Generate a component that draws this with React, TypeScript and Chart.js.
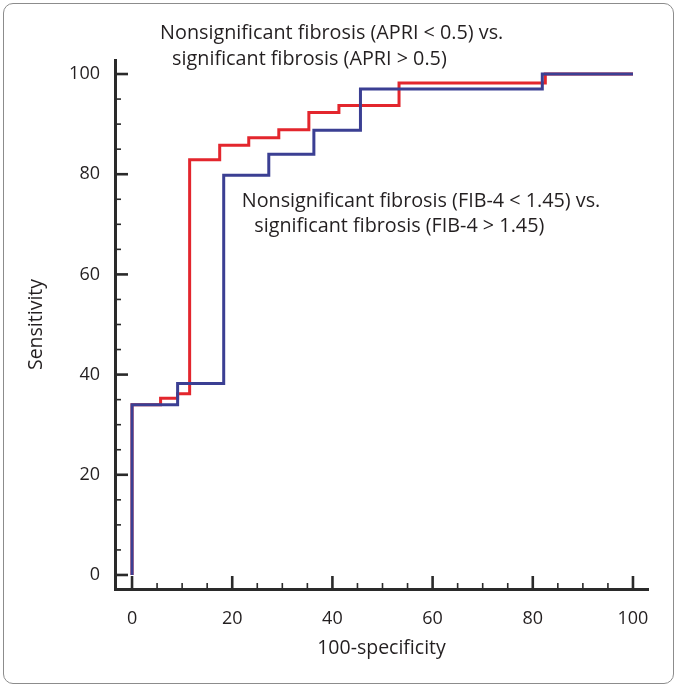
import React, { useEffect, useRef } from "react";
import { Chart, registerables } from "chart.js";

Chart.register(...registerables);

// ROC step corners (100-specificity, sensitivity)
const fibFpr = [0, 0, 9.1, 18.3, 27.3, 36.3, 45.6, 81.9, 100];
const fibSens = [0, 34, 38.2, 79.8, 84, 88.8, 97, 100, 100];
const apriFpr = [0, 0, 5.7, 9.1, 11.5, 17.5, 23.3, 29.3, 35.3, 41.3, 53.3, 82.5, 100];
const apriSens = [0, 34, 35.3, 36.2, 82.9, 85.8, 87.3, 88.9, 92.3, 93.7, 98.2, 100, 100];

const majorTicks = [0, 20, 40, 60, 80, 100];
const minorTicks = [5, 10, 15, 25, 30, 35, 45, 50, 55, 65, 70, 75, 85, 90, 95];

const xTitle = "100-specificity";
const yTitle = "Sensitivity";

const apriLabel = ["Nonsignificant fibrosis (APRI < 0.5) vs.", "significant fibrosis (APRI > 0.5)"];
const fibLabel = ["Nonsignificant fibrosis (FIB-4 < 1.45) vs.", "significant fibrosis (FIB-4 > 1.45)"];

// label anchors in data coordinates (x, y) per line
const apriAnchors = [
  [5.6, 107.0],
  [8.0, 101.9],
];
const fibAnchors = [
  [21.9, 73.5],
  [24.4, 68.5],
];

const FONT = "'Open Sans', sans-serif";
const TEXT = "#231f20";
const AXIS = "#2a2a2a";
const RED = "#e3262d";
const BLUE = "#3b3f93";

const toPoints = (xs: number[], ys: number[]) => xs.map((x, i) => ({ x, y: ys[i] }));

const innerTicks = {
  id: "innerTicks",
  afterDraw(chart: any) {
    const { ctx, chartArea, scales } = chart;
    const xs = scales.x;
    const ys = scales.y;
    ctx.save();
    ctx.strokeStyle = AXIS;
    const draw = (vals: number[], len: number, w: number) => {
      ctx.lineWidth = w;
      vals.forEach((v) => {
        const px = xs.getPixelForValue(v);
        ctx.beginPath();
        ctx.moveTo(px, chartArea.bottom);
        ctx.lineTo(px, chartArea.bottom - len);
        ctx.stroke();
        const py = ys.getPixelForValue(v);
        ctx.beginPath();
        ctx.moveTo(chartArea.left, py);
        ctx.lineTo(chartArea.left + len, py);
        ctx.stroke();
      });
    };
    draw(majorTicks, 13, 2.6);
    draw(minorTicks, 6, 1.6);

    ctx.fillStyle = TEXT;
    ctx.font = `19.8px ${FONT}`;
    ctx.textAlign = "left";
    ctx.textBaseline = "alphabetic";
    const put = (lines: string[], anchors: number[][]) => {
      lines.forEach((t, i) => {
        ctx.fillText(t, xs.getPixelForValue(anchors[i][0]), ys.getPixelForValue(anchors[i][1]));
      });
    };
    put(apriLabel, apriAnchors);
    put(fibLabel, fibAnchors);
    ctx.restore();
  },
};

export default function App() {
  const ref = useRef<HTMLCanvasElement | null>(null);

  useEffect(() => {
    document.body.style.margin = "0";
    const canvas = ref.current;
    if (!canvas) return;
    const chart = new Chart(canvas, {
      type: "line",
      data: {
        datasets: [
          {
            label: "FIB-4",
            data: toPoints(fibFpr, fibSens),
            borderColor: BLUE,
            borderWidth: 3,
            pointRadius: 0,
            stepped: "before",
            fill: false,
            order: 0,
          },
          {
            label: "APRI",
            data: toPoints(apriFpr, apriSens),
            borderColor: RED,
            borderWidth: 3,
            pointRadius: 0,
            stepped: "before",
            fill: false,
            order: 1,
          },
        ],
      },
      options: {
        animation: false,
        responsive: false,
        maintainAspectRatio: false,
        layout: { padding: { left: 0, top: 60, right: 29, bottom: 0 } },
        plugins: { legend: { display: false }, tooltip: { enabled: false } },
        scales: {
          x: {
            type: "linear",
            min: -3.4,
            max: 103,
            afterBuildTicks: (s: any) => {
              s.ticks = majorTicks.map((v) => ({ value: v }));
            },
            afterFit: (s: any) => {
              s.height = 98;
            },
            grid: { display: false, drawTicks: false },
            border: { display: true, color: AXIS, width: 3 },
            ticks: {
              padding: 19,
              color: TEXT,
              font: { family: FONT, size: 18 },
              maxRotation: 0,
            },
            title: {
              display: true,
              text: xTitle,
              color: TEXT,
              font: { family: FONT, size: 19.5 },
              padding: { top: 0, bottom: 27 },
            },
          },
          y: {
            type: "linear",
            min: -2.8,
            max: 102.8,
            afterBuildTicks: (s: any) => {
              s.ticks = majorTicks.map((v) => ({ value: v }));
            },
            afterFit: (s: any) => {
              s.width = 115;
            },
            grid: { display: false, drawTicks: false },
            border: { display: true, color: AXIS, width: 3 },
            ticks: {
              padding: 15,
              color: TEXT,
              font: { family: FONT, size: 18 },
            },
            title: {
              display: true,
              text: yTitle,
              color: TEXT,
              font: { family: FONT, size: 19.5 },
              padding: { top: 25, bottom: 0 },
            },
          },
        },
      },
      plugins: [innerTicks],
    });
    return () => chart.destroy();
  }, []);

  return (
    <div style={{ position: "relative", width: 677, height: 687, background: "#fff" }}>
      <canvas ref={ref} width={677} height={687} style={{ display: "block", width: 677, height: 687 }} />
      <div
        style={{
          position: "absolute",
          left: 3,
          top: 3,
          right: 3,
          bottom: 3,
          border: "1px solid #8c8c8c",
          borderRadius: 10,
          pointerEvents: "none",
        }}
      />
    </div>
  );
}
